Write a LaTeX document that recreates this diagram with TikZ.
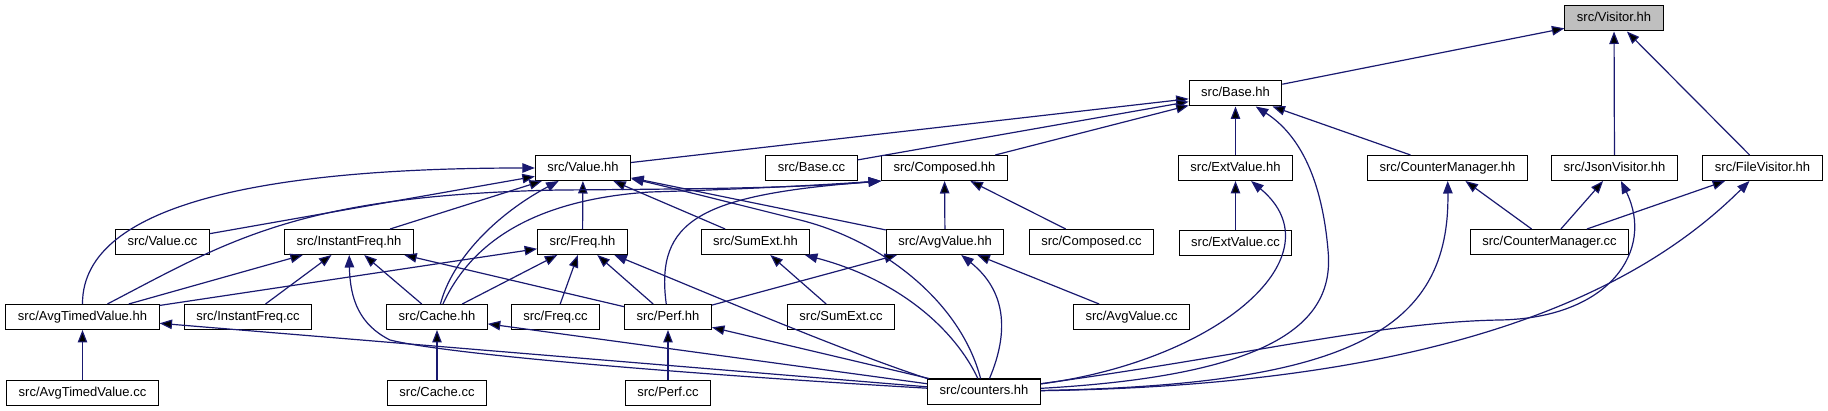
\documentclass[tikz,border=0pt]{standalone}
\usepackage{fontspec}
\setmainfont{Liberation Sans}
\usetikzlibrary{arrows.meta, positioning}

\definecolor{edgeblue}{RGB}{25,25,112}
\definecolor{rootgray}{RGB}{191,191,191}

\tikzset{
  filebox/.style={draw=black, line width=1pt, fill=white, minimum height=25pt,
    inner xsep=12pt, inner ysep=0pt, text height=9.5pt, text depth=2.5pt,
    font=\fontsize{13}{14}\selectfont},
  rootbox/.style={filebox, fill=rootgray},
  incl/.style={draw=edgeblue, line width=1.2pt, -{Triangle[length=12.5pt,width=9.5pt]}},
}

\begin{document}
\begin{tikzpicture}[x=1pt,y=-1pt]
        \useasboundingbox (0,0) rectangle (1828,411);
        % row 0 and 1
        \node[rootbox] (visitor) at (1614,18.5) {src/Visitor.hh};
        \node[filebox] (base) at (1235.5,93.5) {src/Base.hh};
        % row 2
        \node[filebox] (value) at (583,168) {src/Value.hh};
        \node[filebox] (basecc) at (811.5,168) {src/Base.cc};
        \node[filebox] (composed) at (944.5,168) {src/Composed.hh};
        \node[filebox] (extvalue) at (1235.5,168) {src/ExtValue.hh};
        \node[filebox] (countermgr) at (1447.5,168) {src/CounterManager.hh};
        \node[filebox] (jsonvisitor) at (1614.5,168) {src/JsonVisitor.hh};
        \node[filebox] (filevisitor) at (1762.5,168) {src/FileVisitor.hh};
        % row 3
        \node[filebox] (valuecc) at (162.5,242) {src/Value.cc};
        \node[filebox] (instfreq) at (349,242) {src/InstantFreq.hh};
        \node[filebox] (freq) at (582.5,242) {src/Freq.hh};
        \node[filebox] (sumext) at (755.5,242) {src/SumExt.hh};
        \node[filebox] (avgvalue) at (945,242) {src/AvgValue.hh};
        \node[filebox] (composedcc) at (1091.5,242) {src/Composed.cc};
        \node[filebox, below=49pt of extvalue] (extvaluecc) {src/ExtValue.cc};
        \node[filebox] (countermgrcc) at (1549.5,242) {src/CounterManager.cc};
        % row 4
        \node[filebox] (avgtimed) at (82.5,317) {src/AvgTimedValue.hh};
        \node[filebox] (instfreqcc) at (248,317) {src/InstantFreq.cc};
        \node[filebox] (cache) at (437,317) {src/Cache.hh};
        \node[filebox] (freqcc) at (555.5,317) {src/Freq.cc};
        \node[filebox] (perf) at (668,317) {src/Perf.hh};
        \node[filebox] (sumextcc) at (841,317) {src/SumExt.cc};
        \node[filebox] (avgvaluecc) at (1131.5,317) {src/AvgValue.cc};
        % row 5
        \node[filebox, below=49.5pt of avgtimed] (avgtimedcc) {src/AvgTimedValue.cc};
        \node[filebox, below=49.5pt of cache] (cachecc) {src/Cache.cc};
        \node[filebox, below=49.5pt of perf] (perfcc) {src/Perf.cc};
        \node[filebox] (counters) at (984,391.5) {src/counters.hh};
%
        \path[incl]
        (base) edge (visitor)
        (jsonvisitor) edge (visitor)
        (filevisitor) edge (visitor)
        (value) edge (base)
        (basecc) edge (base)
        (composed) edge (base)
        (extvalue) edge (base)
        (countermgr) edge (base)
        (valuecc) edge (value)
        (instfreq) edge (value)
        (freq) edge (value)
        (sumext) edge (value)
        (avgvalue) edge (value)
        (avgvalue) edge (composed)
        (composedcc) edge (composed)
        (extvaluecc) edge (extvalue)
        (countermgrcc) edge (countermgr)
        (countermgrcc) edge (jsonvisitor)
        (countermgrcc) edge (filevisitor)
        (avgtimed) edge (instfreq)
        (avgtimed) edge (freq)
        (instfreqcc) edge (instfreq)
        (cache) edge (instfreq)
        (perf) edge (instfreq)
        (cache) edge (freq)
        (freqcc) edge (freq)
        (perf) edge (freq)
        (perf) edge (avgvalue)
        (sumextcc) edge (sumext)
        (avgvaluecc) edge (avgvalue)
        (avgtimedcc) edge (avgtimed)
        (cachecc) edge (cache)
        (perfcc) edge (perf)
        (counters) edge (avgtimed)
        (counters) edge (cache)
        (counters) edge (perf);
        % curved ones
        \draw[incl] (avgtimed.north) .. controls (82,200) and (280,168) .. (value);
        \draw[incl] (avgtimed) .. controls (230,240) and (300,195) .. (560,190) .. controls (700,189) and (800,188) .. (composed.south west);
        \draw[incl] (cache) .. controls (452,260) and (495,215) .. (value);
        \draw[incl] (cache) .. controls (470,245) and (530,200) .. (650,192) .. controls (750,189) and (820,185) .. (composed.south west);
        \draw[incl] (perf) .. controls (655,220) and (700,195) .. (composed.south west);
        \draw[incl] (counters) .. controls (960,300) and (880,240) .. (800,220) .. controls (720,200) and (660,185) .. (value);
        \draw[incl] (counters) .. controls (1010,330) and (1005,290) .. (avgvalue);
        \draw[incl] (counters) .. controls (955,330) and (900,280) .. (sumext);
        \draw[incl] (counters) .. controls (700,375) and (450,355) .. (390,340) .. controls (360,325) and (350,300) .. (instfreq);
        \draw[incl] (counters.north west) .. controls (840,350) and (700,290) .. (freq);
        \draw[incl] (counters) .. controls (1220,360) and (1340,255) .. (extvalue);
        \draw[incl] (counters) .. controls (1280,375) and (1335,320) .. (1328,250) .. controls (1322,180) and (1300,135) .. (base);
        \draw[incl] (counters) .. controls (1350,385) and (1450,330) .. (countermgr);
        \draw[incl] (counters) .. controls (1250,355) and (1380,322) .. (1500,320) .. controls (1610,318) and (1655,250) .. (jsonvisitor);
        \draw[incl] (counters) .. controls (1450,385) and (1640,290) .. (filevisitor);
\end{tikzpicture}
\end{document}
